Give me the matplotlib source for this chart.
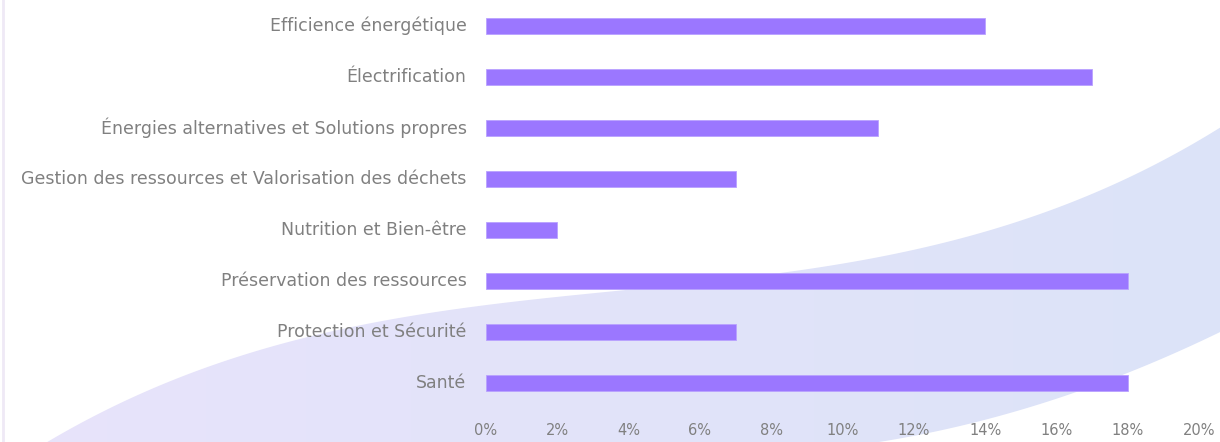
import numpy as np
import matplotlib
matplotlib.use("Agg")
import matplotlib.pyplot as plt
from matplotlib.colors import LinearSegmentedColormap
from matplotlib.patches import Polygon
from matplotlib.ticker import FuncFormatter

categories = [
    "Efficience énergétique",
    "Électrification",
    "Énergies alternatives et Solutions propres",
    "Gestion des ressources et Valorisation des déchets",
    "Nutrition et Bien-être",
    "Préservation des ressources",
    "Protection et Sécurité",
    "Santé",
]
shares = [14, 17, 11, 7, 2, 18, 7, 18]
x_ticks = [0, 2, 4, 6, 8, 10, 12, 14, 16, 18, 20]

BAR = "#9b77ff"
TEXT = "#808080"

plt.rcParams["font.family"] = ["DejaVu Sans"]

W, H = 1220, 442
fig = plt.figure(figsize=(W / 100, H / 100), dpi=100)

# decorative swoosh behind the chart, in pixel coordinates
bg = fig.add_axes([0, 0, 1, 1], zorder=0)
bg.set_xlim(0, W)
bg.set_ylim(H, 0)
bg.axis("off")

up_x = [51, 135, 242, 359, 493, 628, 790, 916, 975, 1074, 1153, 1220]
up_y = [442, 393, 357, 323, 305, 292, 273, 248, 233, 200, 167, 128]
lo_x = [877, 956, 1035, 1114, 1173, 1220]
lo_y = [442, 427, 407, 377, 353, 333]
cu = np.polyfit(up_x, up_y, 3)
cl = np.polyfit(lo_x, lo_y, 2)
xu = np.linspace(40, 1230, 200)
xl = np.linspace(1230, 860, 100)
verts = np.vstack([
    np.column_stack([xu, np.polyval(cu, xu)]),
    np.column_stack([xl, np.polyval(cl, xl)]),
    [[860, 460], [40, 460]],
])
shape = Polygon(verts, closed=True, facecolor="none", edgecolor="none")
bg.add_patch(shape)
grad = LinearSegmentedColormap.from_list("swoosh", ["#e8e4fb", "#dce3f8"])
img = bg.imshow(np.linspace(0, 1, 256)[None, :], cmap=grad, aspect="auto",
                extent=[0, W, H, 0], interpolation="bicubic")
img.set_clip_path(shape)
bg.plot([3, 3], [0, H], color="#efe9f6", lw=2)

ax = fig.add_axes([486 / W, 1 - 408.5 / H, (1199 - 486) / W, 408 / H], zorder=1)
ax.patch.set_alpha(0)
y = np.arange(len(categories))
ax.barh(y, shares, height=0.33, color=BAR, edgecolor="#b9a2ff", linewidth=0.6)
ax.set_ylim(len(categories) - 0.5, -0.5)
ax.set_xlim(0, 20)
ax.set_yticks(y)
ax.set_yticklabels(categories)
ax.set_xticks(x_ticks)
ax.xaxis.set_major_formatter(FuncFormatter(lambda v, _: f"{v:.0f}%"))
ax.tick_params(axis="both", length=0, colors=TEXT)
ax.tick_params(axis="y", pad=14, labelsize=12.5)
ax.tick_params(axis="x", pad=10.5, labelsize=10.5)
for lbl in ax.get_yticklabels():
    lbl.set_va("center")
for s in ax.spines.values():
    s.set_visible(False)

fig.savefig("out.png", dpi=100)
